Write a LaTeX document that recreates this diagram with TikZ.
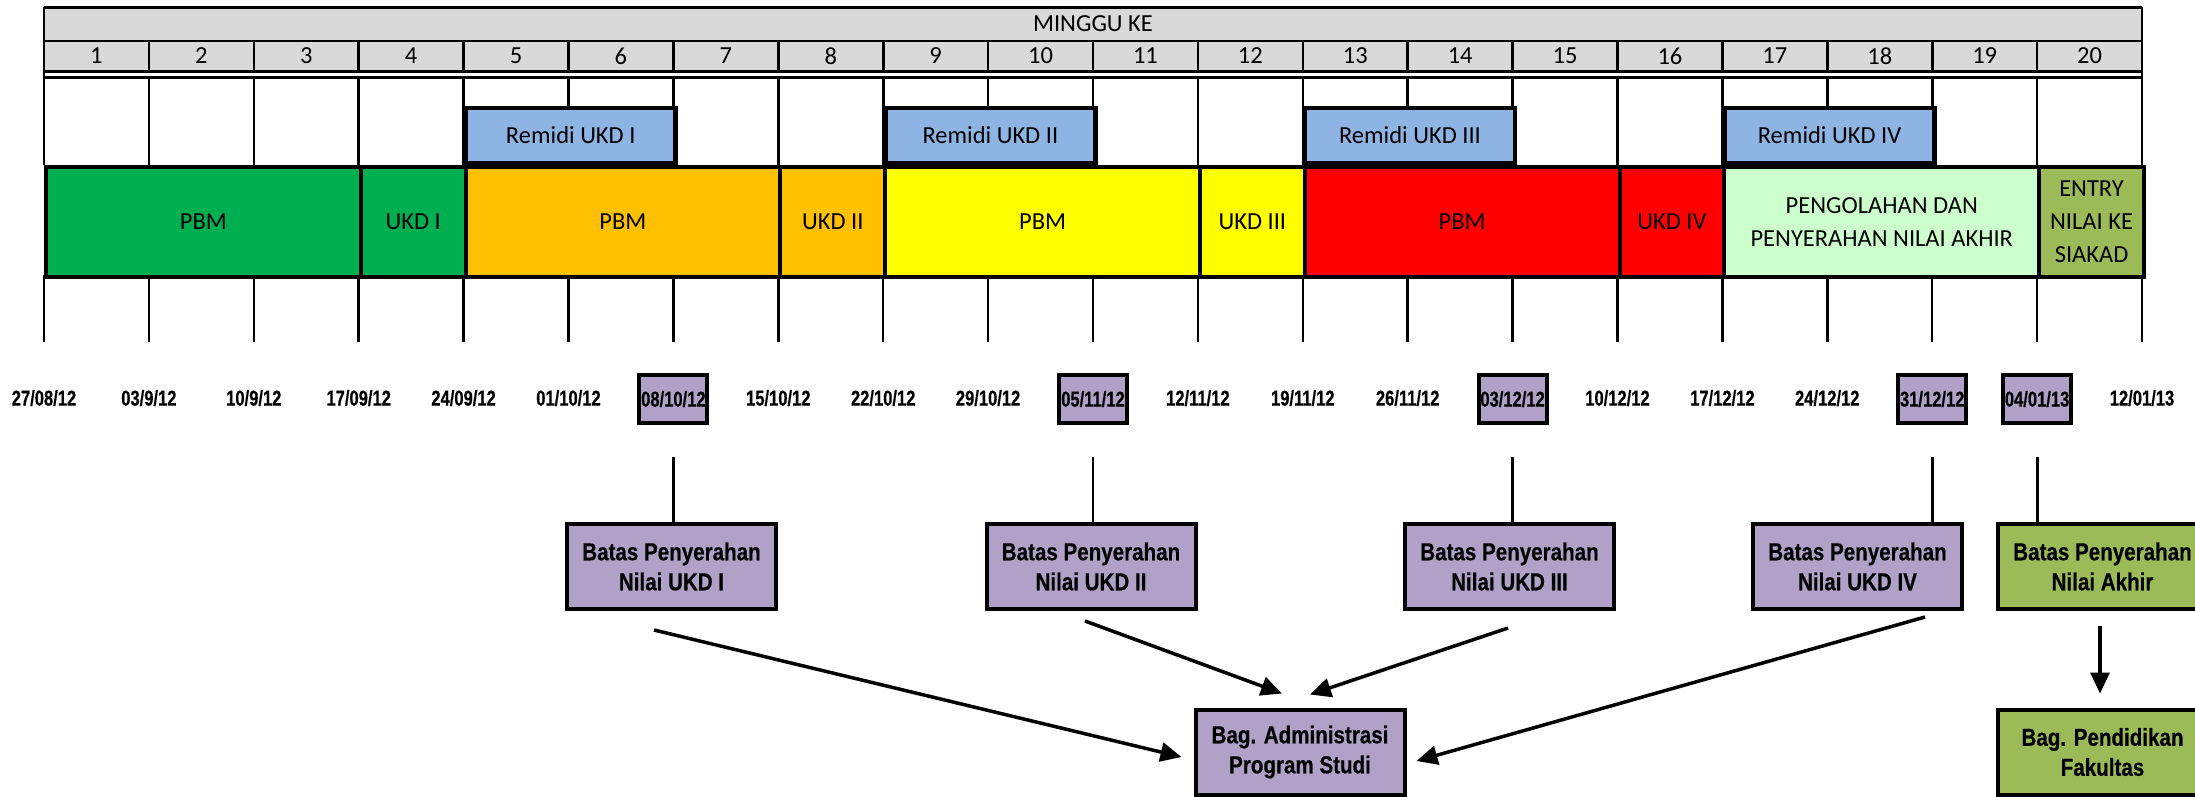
\documentclass[tikz,border=0pt]{standalone}
\usepackage{fontspec}
\setmainfont{Carlito}
\newfontfamily\narrowb[FakeStretch=0.84,FakeBold=0.5]{Liberation Sans Bold}
\newfontfamily\datefont[FakeStretch=0.77,FakeBold=0.5]{Liberation Sans Bold}
\usetikzlibrary{arrows.meta}
\definecolor{hdr}{HTML}{D9D9D9}
\definecolor{cgreen}{HTML}{00B050}
\definecolor{corange}{HTML}{FFC000}
\definecolor{cyellow}{HTML}{FFFF00}
\definecolor{cred}{HTML}{FF0000}
\definecolor{clight}{HTML}{CCFFCC}
\definecolor{colive}{HTML}{9BBB59}
\definecolor{cblue}{HTML}{8DB4E2}
\definecolor{cpurp}{HTML}{B1A0C7}
\newcommand\mkseg[5]{%
  \node[barseg, fill=#4, minimum width={#3*104.9pt}, anchor=north west] (#1) at ({44+#2*104.9},165) {#5};}
\newcommand\mkrem[3]{%
  \node[remi, anchor=south west] (#1) at ({44+#2*104.9},165) {#3};}
\begin{document}
\begin{tikzpicture}[x=1pt,y=-1pt,
  font=\fontsize{24.5}{33}\selectfont,
  grid/.style={line width=2.6pt},
  tick/.style={line width=2.5pt},
  barseg/.style={draw, line width=4pt, minimum height=110pt, inner sep=0pt, align=center},
  remi/.style={draw, line width=4.5pt, fill=cblue, minimum width=209.8pt, minimum height=54.5pt, inner sep=0pt},
  date/.style={font=\datefont\fontsize{21.5}{24}\selectfont, inner sep=0pt},
  dbox/.style={date, draw, line width=4pt, fill=cpurp, minimum width=68pt, minimum height=48pt},
  bbox/.style={draw, line width=4pt, fill=cpurp, minimum width=209pt, minimum height=85pt, align=center, inner sep=0pt, font=\narrowb\fontsize{24.5}{30}\selectfont},
  conn/.style={line width=2.8pt},
  arr/.style={line width=3.5pt, -{Triangle[length=21pt,width=19pt]}}
]
\useasboundingbox (0,0) rectangle (2195,797);
% header
\fill[hdr] (44,7.5) rectangle (2142,71.5);
\draw[grid] (44,7.5) -- (2142,7.5);
\draw[grid] (44,41) -- (2142,41);
\draw[grid] (44,71.5) -- (2142,71.5);
\draw[grid] (44,77.5) -- (2142,77.5);
\draw[grid] (44,7.5) -- (44,165);
\draw[grid] (2142,7.5) -- (2142,165);
\foreach \i in {1,...,19} {
  \draw[grid] ({44+\i*104.9},41) -- ({44+\i*104.9},71.5);
  \draw[grid] ({44+\i*104.9},77.5) -- ({44+\i*104.9},165);
}
\node (hd) at (1093,24) {MINGGU KE};
\foreach \i in {1,...,20} \node (n\i) at ({44+(\i-0.5)*104.9},56) {\i};
% ticks
\foreach \i in {0,...,20} \draw[tick] ({44+\i*104.9},275) -- ({44+\i*104.9},342);
% remidi
\mkrem{r1}{4}{Remidi UKD I}
\mkrem{r2}{8}{Remidi UKD II}
\mkrem{r3}{12}{Remidi UKD III}
\mkrem{r4}{16}{Remidi UKD IV}
% bar
\mkseg{p1}{0}{3}{cgreen}{PBM}
\mkseg{u1}{3}{1}{cgreen}{UKD I}
\mkseg{p2}{4}{3}{corange}{PBM}
\mkseg{u2}{7}{1}{corange}{UKD II}
\mkseg{p3}{8}{3}{cyellow}{PBM}
\mkseg{u3}{11}{1}{cyellow}{UKD III}
\mkseg{p4}{12}{3}{cred}{PBM}
\mkseg{u4}{15}{1}{cred}{UKD IV}
\mkseg{pg}{16}{3}{clight}{PENGOLAHAN DAN\\PENYERAHAN NILAI AKHIR}
\mkseg{en}{19}{1}{colive}{ENTRY\\NILAI KE\\SIAKAD}
% dates
\node[date] (d0) at ({44+0*104.9},398) {27/08/12};
\node[date] (d1) at ({44+1*104.9},398) {03/9/12};
\node[date] (d2) at ({44+2*104.9},398) {10/9/12};
\node[date] (d3) at ({44+3*104.9},398) {17/09/12};
\node[date] (d4) at ({44+4*104.9},398) {24/09/12};
\node[date] (d5) at ({44+5*104.9},398) {01/10/12};
\node[dbox] (d6) at ({44+6*104.9},399) {08/10/12};
\node[date] (d7) at ({44+7*104.9},398) {15/10/12};
\node[date] (d8) at ({44+8*104.9},398) {22/10/12};
\node[date] (d9) at ({44+9*104.9},398) {29/10/12};
\node[dbox] (d10) at ({44+10*104.9},399) {05/11/12};
\node[date] (d11) at ({44+11*104.9},398) {12/11/12};
\node[date] (d12) at ({44+12*104.9},398) {19/11/12};
\node[date] (d13) at ({44+13*104.9},398) {26/11/12};
\node[dbox] (d14) at ({44+14*104.9},399) {03/12/12};
\node[date] (d15) at ({44+15*104.9},398) {10/12/12};
\node[date] (d16) at ({44+16*104.9},398) {17/12/12};
\node[date] (d17) at ({44+17*104.9},398) {24/12/12};
\node[dbox] (d18) at ({44+18*104.9},399) {31/12/12};
\node[dbox] (d19) at ({44+19*104.9},399) {04/01/13};
\node[date] (d20) at ({44+20*104.9},398) {12/01/13};
% batas boxes
\node[bbox] (b1) at (671.5,566.5) {Batas Penyerahan\\Nilai UKD I};
\node[bbox] (b2) at (1091,566.5) {Batas Penyerahan\\Nilai UKD II};
\node[bbox] (b3) at (1509.5,566.5) {Batas Penyerahan\\Nilai UKD III};
\node[bbox] (b4) at (1857.5,566.5) {Batas Penyerahan\\Nilai UKD IV};
\node[bbox, fill=colive] (b5) at (2102.5,566.5) {Batas Penyerahan\\Nilai Akhir};
\node[bbox] (adm) at (1300,752) {Bag. Administrasi\\Program Studi};
\node[bbox, fill=colive] (pend) at (2102.5,752) {Bag. Pendidikan\\Fakultas};
% connectors from dates
\draw[conn] (d6.south) ++(0,32) -- (d6.south |- b1.north);
\draw[conn] (d10.south) ++(0,32) -- (d10.south |- b2.north);
\draw[conn] (d14.south) ++(0,32) -- (d14.south |- b3.north);
\draw[conn] (d18.south) ++(0,32) -- (d18.south |- b4.north);
\draw[conn] (d19.south) ++(0,32) -- (d19.south |- b5.north);
% arrows
\draw[arr] ([shift={(-17.5,19)}]b1.south) -- ([shift={(-12,5)}]adm.west);
\draw[arr] ([shift={(-6,10)}]b2.south) -- ([shift={(-18,-14)}]adm.north);
\draw[arr] ([shift={(-1.5,17)}]b3.south) -- ([shift={(10,-13)}]adm.north);
\draw[arr] ([shift={(67.5,6)}]b4.south) -- ([shift={(10,9)}]adm.east);
\draw[arr] ([shift={(-2.5,15)}]b5.south) -- ([shift={(-2.5,-14)}]pend.north);
\end{tikzpicture}
\end{document}
